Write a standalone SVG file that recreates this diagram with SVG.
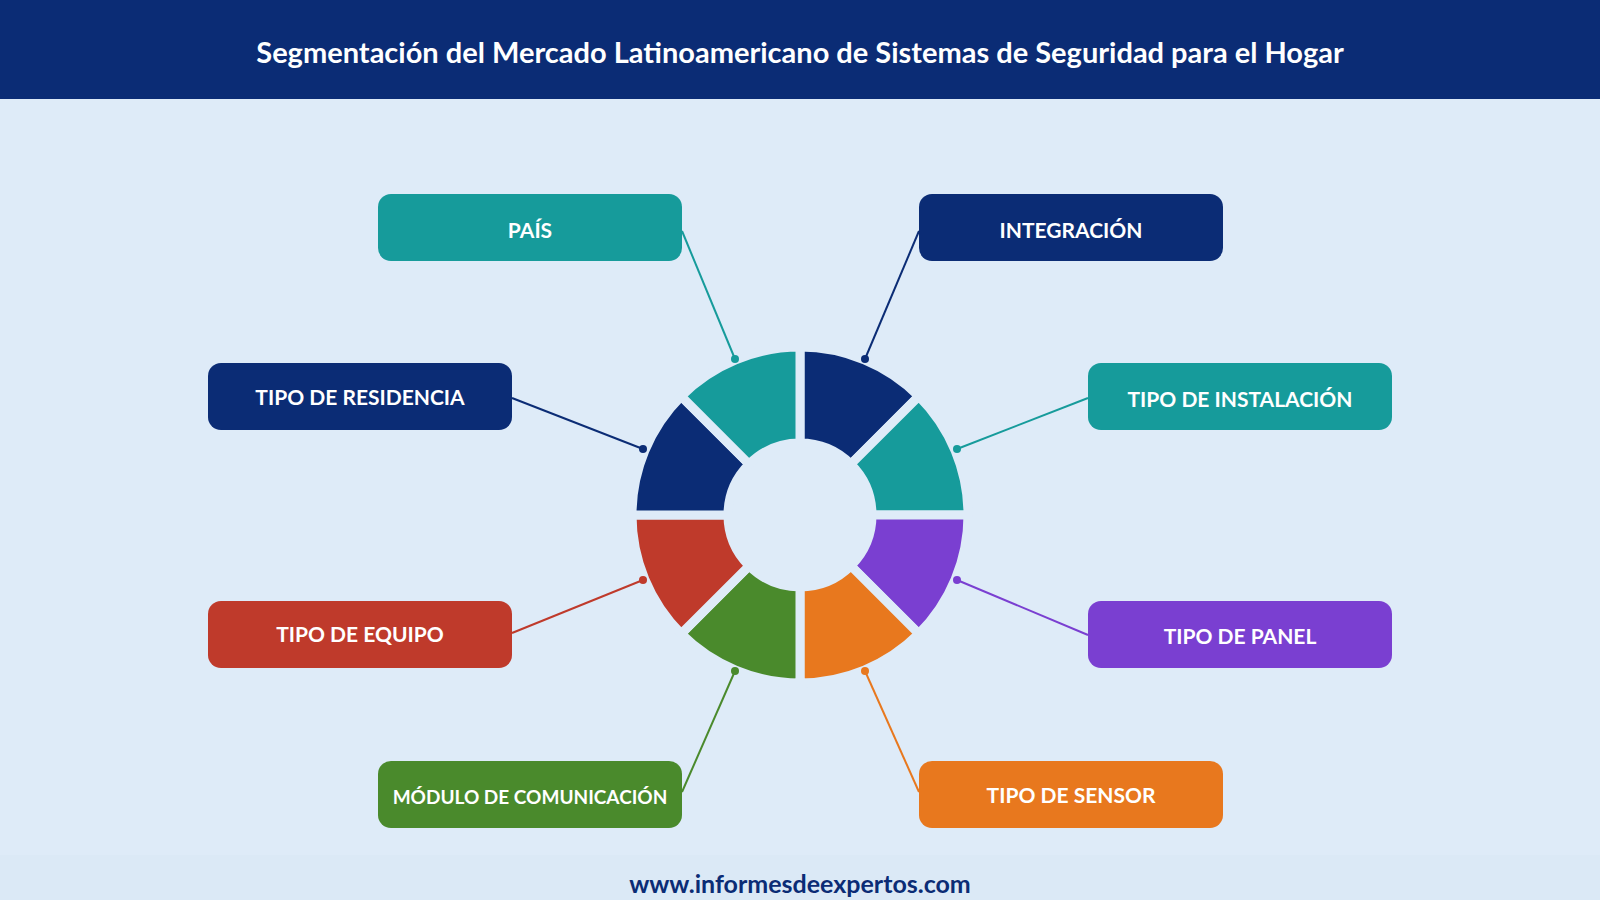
<svg xmlns="http://www.w3.org/2000/svg" width="1600" height="900" viewBox="0 0 1600 900">
<style>
.t{font-family:Lato,"Open Sans","Liberation Sans",sans-serif;font-weight:bold;fill:#fff;text-anchor:middle;dominant-baseline:central}
.w{stroke:#deebf8;stroke-width:9}
.c line{stroke-width:2}
</style>
<rect width="1600" height="900" fill="#deebf8"/>
<rect width="1600" height="99" fill="#0b2c75"/>
<text class="t" x="800" y="51" font-size="29">Segmentación del Mercado Latinoamericano de Sistemas de Seguridad para el Hogar</text>
<rect y="855" width="1600" height="45" fill="#dbe9f6"/>
<text class="t" x="800" y="883" font-size="25" style="fill:#0b2c75">www.informesdeexpertos.com</text>
<g id="donut">
<path class="w" fill="#0b2c75" d="M800,347 A168,168 0 0 1 918.8,396.2 L850.9,464.1 A72,72 0 0 0 800,443 Z"/>
<path class="w" fill="#169b9b" d="M918.8,396.2 A168,168 0 0 1 968,515 L872,515 A72,72 0 0 0 850.9,464.1 Z"/>
<path class="w" fill="#7a3fd1" d="M968,515 A168,168 0 0 1 918.8,633.8 L850.9,565.9 A72,72 0 0 0 872,515 Z"/>
<path class="w" fill="#e8781e" d="M918.8,633.8 A168,168 0 0 1 800,683 L800,587 A72,72 0 0 0 850.9,565.9 Z"/>
<path class="w" fill="#4a8a2c" d="M800,683 A168,168 0 0 1 681.2,633.8 L749.1,565.9 A72,72 0 0 0 800,587 Z"/>
<path class="w" fill="#bf3a2b" d="M681.2,633.8 A168,168 0 0 1 632,515 L728,515 A72,72 0 0 0 749.1,565.9 Z"/>
<path class="w" fill="#0b2c75" d="M632,515 A168,168 0 0 1 681.2,396.2 L749.1,464.1 A72,72 0 0 0 728,515 Z"/>
<path class="w" fill="#169b9b" d="M681.2,396.2 A168,168 0 0 1 800,347 L800,443 A72,72 0 0 0 749.1,464.1 Z"/>
</g>
<g id="connectors" class="c">
<line x1="682" y1="231" x2="735" y2="359" stroke="#169b9b"/><circle cx="735" cy="359" r="4" fill="#169b9b"/>
<line x1="919" y1="231" x2="865" y2="359" stroke="#0b2c75"/><circle cx="865" cy="359" r="4" fill="#0b2c75"/>
<line x1="512" y1="398" x2="643" y2="449" stroke="#0b2c75"/><circle cx="643" cy="449" r="4" fill="#0b2c75"/>
<line x1="1088" y1="398" x2="957" y2="449" stroke="#169b9b"/><circle cx="957" cy="449" r="4" fill="#169b9b"/>
<line x1="512" y1="633" x2="643" y2="580" stroke="#bf3a2b"/><circle cx="643" cy="580" r="4" fill="#bf3a2b"/>
<line x1="1088" y1="635" x2="957" y2="580" stroke="#7a3fd1"/><circle cx="957" cy="580" r="4" fill="#7a3fd1"/>
<line x1="682" y1="792" x2="735" y2="671" stroke="#4a8a2c"/><circle cx="735" cy="671" r="4" fill="#4a8a2c"/>
<line x1="919" y1="792" x2="865" y2="671" stroke="#e8781e"/><circle cx="865" cy="671" r="4" fill="#e8781e"/>
</g>
<g id="pais"><rect x="378" y="194" width="304" height="67" rx="13" fill="#169b9b"/><text class="t" x="530" y="229" font-size="21">PAÍS</text></g>
<g id="integracion"><rect x="919" y="194" width="304" height="67" rx="13" fill="#0b2c75"/><text class="t" x="1071" y="229" font-size="21">INTEGRACIÓN</text></g>
<g id="residencia"><rect x="208" y="363" width="304" height="67" rx="13" fill="#0b2c75"/><text class="t" x="360" y="396" font-size="21">TIPO DE RESIDENCIA</text></g>
<g id="instalacion"><rect x="1088" y="363" width="304" height="67" rx="13" fill="#169b9b"/><text class="t" x="1240" y="398" font-size="21">TIPO DE INSTALACIÓN</text></g>
<g id="equipo"><rect x="208" y="601" width="304" height="67" rx="13" fill="#bf3a2b"/><text class="t" x="360" y="633" font-size="21">TIPO DE EQUIPO</text></g>
<g id="panel"><rect x="1088" y="601" width="304" height="67" rx="13" fill="#7a3fd1"/><text class="t" x="1240" y="635" font-size="21">TIPO DE PANEL</text></g>
<g id="modulo"><rect x="378" y="761" width="304" height="67" rx="13" fill="#4a8a2c"/><text class="t" x="530" y="796" font-size="19">MÓDULO DE COMUNICACIÓN</text></g>
<g id="sensor"><rect x="919" y="761" width="304" height="67" rx="13" fill="#e8781e"/><text class="t" x="1071" y="794" font-size="21">TIPO DE SENSOR</text></g>
</svg>
